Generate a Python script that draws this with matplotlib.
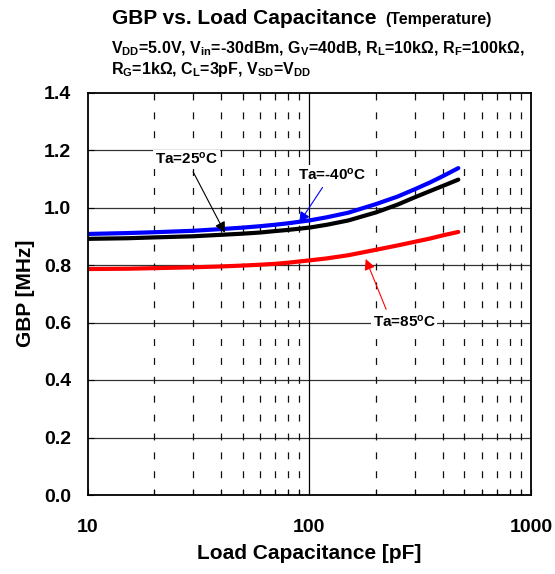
import matplotlib
matplotlib.use("Agg")
import matplotlib.pyplot as plt

plt.rcParams['font.family'] = ['Liberation Sans', 'DejaVu Sans']
plt.rcParams['font.weight'] = 'bold'
plt.rcParams['mathtext.fontset'] = 'custom'
plt.rcParams['mathtext.rm'] = 'Liberation Sans:bold'
plt.rcParams['mathtext.it'] = 'Liberation Sans:bold'
plt.rcParams['mathtext.bf'] = 'Liberation Sans:bold'
plt.rcParams['mathtext.default'] = 'bf'
plt.rcParams['lines.scale_dashes'] = False

# ---- data ----
cap_pf = [10, 15, 20, 30, 40, 50, 60, 70, 80, 100, 120, 150, 200, 250, 300, 350, 400, 470]
gbp_m40 = [0.908, 0.911, 0.914, 0.919, 0.925, 0.930, 0.935, 0.940, 0.945, 0.955, 0.966, 0.982,
           1.012, 1.038, 1.064, 1.087, 1.109, 1.137]
gbp_25 = [0.891, 0.893, 0.896, 0.900, 0.905, 0.909, 0.913, 0.918, 0.922, 0.930, 0.940, 0.955,
          0.983, 1.010, 1.036, 1.057, 1.075, 1.097]
gbp_85 = [0.786, 0.787, 0.789, 0.792, 0.795, 0.798, 0.801, 0.804, 0.808, 0.816, 0.823, 0.834,
          0.853, 0.868, 0.881, 0.892, 0.903, 0.915]
x_ticks = [10, 100, 1000]
x_ticklabels = ["10", "100", "1000"]
y_ticks = [0.0, 0.2, 0.4, 0.6, 0.8, 1.0, 1.2, 1.4]
y_ticklabels = ["0.0", "0.2", "0.4", "0.6", "0.8", "1.0", "1.2", "1.4"]
minor_x = [20, 30, 40, 50, 60, 70, 80, 90, 200, 300, 400, 500, 600, 700, 800, 900]

W, H = 555, 574
fig = plt.figure(figsize=(W / 100, H / 100), dpi=100)
ax = fig.add_axes([87.7 / W, 1 - 495 / H, (531 - 87.7) / W, (495 - 92.5) / H])
ax.set_xscale('log')
ax.set_xlim(10, 1000)
ax.set_ylim(0, 1.4)

# grid
for yv in y_ticks[1:-1]:
    ax.plot([10, 1000], [yv, yv], color='#333333', lw=0.9, zorder=1)
for xv in minor_x:
    ax.plot([xv, xv], [1.4, 0], color='#111111', lw=0.9, linestyle=(0, (5, 8.6)), zorder=1)
ax.plot([100, 100], [0, 1.4], color='black', lw=0.9, zorder=1)

# curves
ax.plot(cap_pf, gbp_85, color='#ff0000', lw=3.0, zorder=3, solid_capstyle='round')
ax.plot(cap_pf, gbp_25, color='black', lw=3.0, zorder=3, solid_capstyle='round')
ax.plot(cap_pf, gbp_m40, color='#0000ff', lw=3.0, zorder=4, solid_capstyle='round')

ax.set_xticks(x_ticks)
ax.set_xticklabels(x_ticklabels)
ax.set_xticks(minor_x, minor=True)
ax.set_xticklabels([], minor=True)
ax.set_yticks(y_ticks)
ax.set_yticklabels(y_ticklabels)
ax.tick_params(axis='both', which='both', direction='in', length=4, width=0.8)
ax.tick_params(axis='x', which='major', labelsize=14, pad=17)
ax.tick_params(axis='y', which='major', labelsize=14, pad=12)
for lab in ax.get_xticklabels() + ax.get_yticklabels():
    lab.set_fontweight('bold')
for sp in ax.spines.values():
    sp.set_linewidth(1.3)
    sp.set_zorder(6)

ax.set_xlabel('Load Capacitance [pF]', fontsize=15, fontweight='bold', labelpad=6)
ax.set_ylabel('GBP [MHz]', fontsize=15, fontweight='bold', labelpad=6)

# annotations
bbox = dict(boxstyle='square,pad=0.1', fc='white', ec='none')
ax.text(20.1, 1.151, r'Ta=25$^{o}$C', fontsize=11, fontweight='bold', ha='left', va='baseline', bbox=bbox, zorder=5)
ax.text(88.5, 1.096, r'Ta=-40$^{o}$C', fontsize=11, fontweight='bold', ha='left', va='baseline', bbox=bbox, zorder=5)
ax.text(193, 0.585, r'Ta=85$^{o}$C', fontsize=11, fontweight='bold', ha='left', va='baseline', bbox=bbox, zorder=5)

ax.annotate('', xy=(41.6, 0.912), xytext=(29.9, 1.124),
            arrowprops=dict(arrowstyle='-|>', color='black', lw=0.8, mutation_scale=16, shrinkA=0, shrinkB=0), zorder=5)
ax.annotate('', xy=(90, 0.947), xytext=(114.7, 1.070),
            arrowprops=dict(arrowstyle='-|>', color='#0000ff', lw=0.8, mutation_scale=16, shrinkA=0, shrinkB=0), zorder=5)
ax.annotate('', xy=(179.6, 0.821), xytext=(222, 0.646),
            arrowprops=dict(arrowstyle='-|>', color='#ff0000', lw=0.8, mutation_scale=16, shrinkA=0, shrinkB=0), zorder=5)

# titles
fig.text(112 / W, 1 - 24 / H, 'GBP vs. Load Capacitance', fontsize=15, fontweight='bold', ha='left', va='baseline')
fig.text(385 / W, 1 - 24 / H, '(Temperature)', fontsize=11.5, fontweight='bold', ha='left', va='baseline')
fig.text(111 / W, 1 - 53 / H,
         r'V$_{DD}$=5.0V, V$_{in}$=-30dBm, G$_{V}$=40dB, R$_{L}$=10kΩ, R$_{F}$=100kΩ,',
         fontsize=11.5, fontweight='bold', ha='left', va='baseline')
fig.text(111 / W, 1 - 74 / H,
         r'R$_{G}$=1kΩ, C$_{L}$=3pF, V$_{SD}$=V$_{DD}$',
         fontsize=11.5, fontweight='bold', ha='left', va='baseline')

fig.savefig('out.png', dpi=100)
